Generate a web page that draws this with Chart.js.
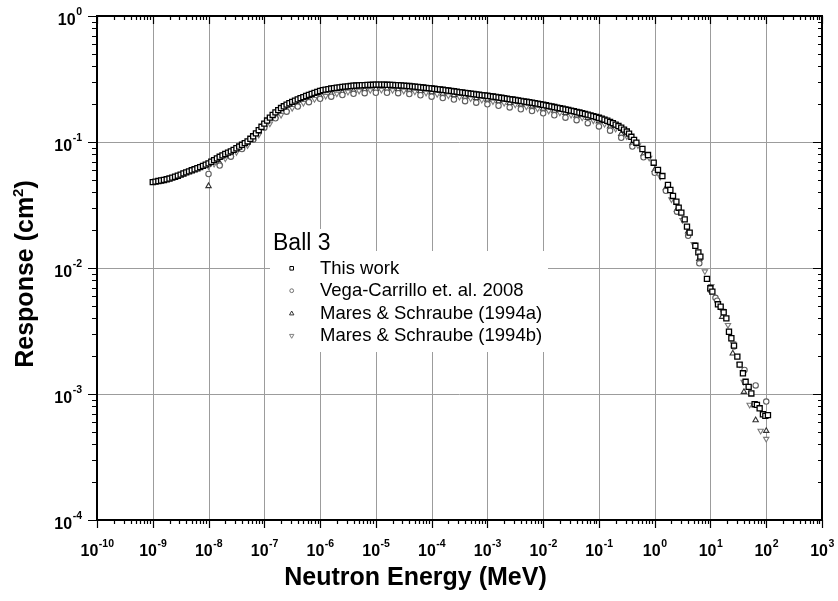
<!DOCTYPE html>
<html>
<head>
<meta charset="utf-8">
<title>Ball 3 response</title>
<script src="https://cdn.jsdelivr.net/npm/chart.js@4.4.1/dist/chart.umd.min.js"></script>
<style>
  html, body { margin: 0; padding: 0; background: #fff; }
  canvas { display: block; }
</style>
</head>
<body>
<canvas id="responseChart" width="838" height="601"></canvas>
<script>
// decade exponents used for grid, ticks and labels
const xTickExps = [-10, -9, -8, -7, -6, -5, -4, -3, -2, -1, 0, 1, 2, 3];
const yTickExps = [-4, -3, -2, -1, 0];

const seriesNames = [
    'This work',
    'Vega-Carrillo et. al. 2008',
    'Mares & Schraube (1994a)',
    'Mares & Schraube (1994b)'
];

// This work: log10(E/MeV) and response in cm^2
const workLogE = [
    -9.00, -8.95, -8.90, -8.85, -8.80, -8.75, -8.70, -8.65, -8.60, -8.55,
    -8.50, -8.45, -8.40, -8.35, -8.30, -8.25, -8.20, -8.15, -8.10, -8.05,
    -8.00, -7.95, -7.90, -7.85, -7.80, -7.75, -7.70, -7.65, -7.60, -7.55,
    -7.50, -7.45, -7.40, -7.35, -7.30, -7.25, -7.20, -7.15, -7.10, -7.05,
    -7.00, -6.95, -6.90, -6.85, -6.80, -6.75, -6.70, -6.65, -6.60, -6.55,
    -6.50, -6.45, -6.40, -6.35, -6.30, -6.25, -6.20, -6.15, -6.10, -6.05,
    -6.00, -5.95, -5.90, -5.85, -5.80, -5.75, -5.70, -5.65, -5.60, -5.55,
    -5.50, -5.45, -5.40, -5.35, -5.30, -5.25, -5.20, -5.15, -5.10, -5.05,
    -5.00, -4.95, -4.90, -4.85, -4.80, -4.75, -4.70, -4.65, -4.60, -4.55,
    -4.50, -4.45, -4.40, -4.35, -4.30, -4.25, -4.20, -4.15, -4.10, -4.05,
    -4.00, -3.95, -3.90, -3.85, -3.80, -3.75, -3.70, -3.65, -3.60, -3.55,
    -3.50, -3.45, -3.40, -3.35, -3.30, -3.25, -3.20, -3.15, -3.10, -3.05,
    -3.00, -2.95, -2.90, -2.85, -2.80, -2.75, -2.70, -2.65, -2.60, -2.55,
    -2.50, -2.45, -2.40, -2.35, -2.30, -2.25, -2.20, -2.15, -2.10, -2.05,
    -2.00, -1.95, -1.90, -1.85, -1.80, -1.75, -1.70, -1.65, -1.60, -1.55,
    -1.50, -1.45, -1.40, -1.35, -1.30, -1.25, -1.20, -1.15, -1.10, -1.05,
    -1.00, -0.95, -0.90, -0.85, -0.80, -0.75, -0.70, -0.65, -0.60, -0.55,
    -0.50, -0.46, -0.418, -0.37, -0.328, -0.22, -0.12, -0.018, 0.059, 0.138,
    0.238, 0.281, 0.328, 0.389, 0.43, 0.478, 0.538, 0.579, 0.627, 0.729,
    0.783, 0.819, 0.937, 0.998, 1.034, 1.135, 1.183, 1.237, 1.285, 1.332,
    1.375, 1.422, 1.482, 1.523, 1.582, 1.63, 1.685, 1.733, 1.792, 1.833,
    1.882, 1.941, 1.984, 2.031
];
const workResp = [
    0.0480, 0.0485, 0.0490, 0.0495, 0.0500, 0.0506, 0.0513, 0.0521, 0.0530, 0.0540,
    0.0551, 0.0563, 0.0574, 0.0585, 0.0596, 0.0607, 0.0619, 0.0632, 0.0646, 0.0661,
    0.0677, 0.0697, 0.0718, 0.0740, 0.0763, 0.0783, 0.0803, 0.0823, 0.0843, 0.0866,
    0.0892, 0.0920, 0.0950, 0.0980, 0.1010, 0.1060, 0.1110, 0.1170, 0.1240, 0.1320,
    0.1400, 0.1480, 0.1560, 0.1640, 0.1720, 0.1790, 0.1860, 0.1920, 0.1980, 0.2030,
    0.2080, 0.2130, 0.2180, 0.2228, 0.2272, 0.2318, 0.2365, 0.2410, 0.2455, 0.2500,
    0.2540, 0.2580, 0.2605, 0.2630, 0.2655, 0.2675, 0.2695, 0.2715, 0.2735, 0.2750,
    0.2765, 0.2780, 0.2795, 0.2805, 0.2815, 0.2822, 0.2830, 0.2835, 0.2840, 0.2845,
    0.2848, 0.2850, 0.2850, 0.2848, 0.2845, 0.2840, 0.2835, 0.2828, 0.2820, 0.2810,
    0.2800, 0.2790, 0.2780, 0.2765, 0.2750, 0.2735, 0.2720, 0.2705, 0.2690, 0.2675,
    0.2660, 0.2645, 0.2630, 0.2612, 0.2595, 0.2578, 0.2560, 0.2543, 0.2525, 0.2508,
    0.2490, 0.2473, 0.2456, 0.2439, 0.2422, 0.2405, 0.2388, 0.2372, 0.2356, 0.2342,
    0.2328, 0.2312, 0.2295, 0.2277, 0.2260, 0.2242, 0.2225, 0.2207, 0.2190, 0.2172,
    0.2155, 0.2137, 0.2120, 0.2102, 0.2085, 0.2067, 0.2050, 0.2032, 0.2015, 0.1995,
    0.1975, 0.1955, 0.1935, 0.1915, 0.1895, 0.1875, 0.1855, 0.1835, 0.1815, 0.1795,
    0.1775, 0.1755, 0.1735, 0.1713, 0.1692, 0.1670, 0.1648, 0.1626, 0.1603, 0.1580,
    0.1556, 0.1530, 0.1503, 0.1474, 0.1443, 0.1410, 0.1375, 0.1338, 0.1298, 0.1255,
    0.1210, 0.1165, 0.110, 0.104, 0.0987, 0.088, 0.0788, 0.0685, 0.060, 0.0537,
    0.0456, 0.0416, 0.0373, 0.0336, 0.0301, 0.0275, 0.0243, 0.0213, 0.0191, 0.0150,
    0.0133, 0.0123, 0.0082, 0.0069, 0.0065, 0.00515, 0.00493, 0.00445, 0.00398, 0.00312,
    0.00277, 0.00242, 0.00198, 0.00171, 0.00146, 0.00125, 0.00114, 0.00101, 0.00083, 0.00082,
    0.00077, 0.00069, 0.00067, 0.00068
];

// Vega-Carrillo et al. 2008
const vegaLogE = [
    -8.0, -7.8, -7.6, -7.4, -7.2, -7.0, -6.8, -6.6, -6.4, -6.2,
    -6.0, -5.8, -5.6, -5.4, -5.2, -5.0, -4.8, -4.6, -4.4, -4.2,
    -4.0, -3.8, -3.6, -3.4, -3.2, -3.0, -2.8, -2.6, -2.4, -2.2,
    -2.0, -1.8, -1.6, -1.4, -1.2, -1.0, -0.8, -0.6, -0.4, -0.2,
    0.0, 0.2, 0.4, 0.6, 0.8, 1.0, 1.09, 1.12, 1.42, 1.61,
    1.81, 2.0
];
const vegaResp = [
    0.0557, 0.065, 0.0765, 0.088, 0.104, 0.130, 0.154, 0.174, 0.191, 0.207,
    0.220, 0.229, 0.236, 0.241, 0.244, 0.246, 0.246, 0.244, 0.240, 0.235,
    0.229, 0.223, 0.217, 0.211, 0.205, 0.199, 0.194, 0.188, 0.182, 0.176,
    0.169, 0.163, 0.156, 0.149, 0.141, 0.133, 0.123, 0.108, 0.092, 0.0756,
    0.057, 0.041, 0.028, 0.018, 0.0109, 0.0067, 0.0058, 0.0055, 0.00238, 0.00155,
    0.00117, 0.00087
];

// Mares & Schraube 1994, set a
const maresALogE = [
    -8.0, -7.8, -7.6, -7.4, -7.2, -7.0, -6.8, -6.6, -6.4, -6.2,
    -6.0, -5.8, -5.6, -5.4, -5.2, -5.0, -4.8, -4.6, -4.4, -4.2,
    -4.0, -3.8, -3.6, -3.4, -3.2, -3.0, -2.8, -2.6, -2.4, -2.2,
    -2.0, -1.8, -1.6, -1.4, -1.2, -1.0, -0.8, -0.6, -0.4, -0.2,
    0.0, 0.2, 0.4, 0.6, 0.8, 1.0, 1.21, 1.40, 1.60, 1.81,
    2.0
];
const maresAResp = [
    0.0447, 0.068, 0.079, 0.091, 0.107, 0.136, 0.160, 0.181, 0.199, 0.216,
    0.230, 0.241, 0.249, 0.256, 0.261, 0.264, 0.265, 0.263, 0.260, 0.254,
    0.248, 0.242, 0.236, 0.229, 0.223, 0.217, 0.211, 0.204, 0.198, 0.191,
    0.184, 0.177, 0.170, 0.162, 0.155, 0.146, 0.133, 0.116, 0.098, 0.080,
    0.060, 0.043, 0.029, 0.0195, 0.0118, 0.0070, 0.0041, 0.0021, 0.00104, 0.00062,
    0.00051
];

// Mares & Schraube 1994, set b
const maresBLogE = [
    -8.0, -7.9, -7.7, -7.5, -7.3, -7.1, -6.9, -6.7, -6.5, -6.3,
    -6.1, -5.9, -5.7, -5.5, -5.3, -5.1, -4.9, -4.7, -4.5, -4.3,
    -4.1, -3.9, -3.7, -3.5, -3.3, -3.1, -2.9, -2.7, -2.5, -2.3,
    -2.1, -1.9, -1.7, -1.5, -1.3, -1.1, -0.9, -0.7, -0.5, -0.3,
    -0.1, 0.1, 0.3, 0.5, 0.7, 0.9, 1.015, 1.213, 1.314, 1.403,
    1.523, 1.595, 1.703, 1.9, 2.0
];
const maresBResp = [
    0.064, 0.067, 0.074, 0.083, 0.094, 0.114, 0.140, 0.164, 0.186, 0.204,
    0.219, 0.232, 0.242, 0.250, 0.255, 0.258, 0.259, 0.258, 0.255, 0.251,
    0.246, 0.240, 0.234, 0.228, 0.222, 0.216, 0.210, 0.204, 0.198, 0.191,
    0.184, 0.177, 0.171, 0.164, 0.156, 0.148, 0.139, 0.127, 0.111, 0.094,
    0.075, 0.053, 0.035, 0.024, 0.0155, 0.0094, 0.0072, 0.00456, 0.00353, 0.00252,
    0.00172, 0.00125, 0.00082, 0.00051, 0.00044
];

const FONT = '"Liberation Sans", Arial, Helvetica, sans-serif';

function toPoints(logE, resp) {
    const n = Math.min(logE.length, resp.length);
    const pts = [];
    for (let i = 0; i < n; i++) {
        pts.push({ x: Math.pow(10, logE[i]), y: resp[i] });
    }
    return pts;
}

// small legend symbols
function legendMarker(ctx, kind, x, y) {
    ctx.save();
    ctx.lineWidth = 1;
    ctx.fillStyle = '#fff';
    ctx.beginPath();
    if (kind === 0) {
        ctx.strokeStyle = '#000';
        ctx.rect(x - 1.8, y - 1.8, 3.6, 3.6);
    } else if (kind === 1) {
        ctx.strokeStyle = '#707070';
        ctx.arc(x, y, 1.9, 0, Math.PI * 2);
    } else if (kind === 2) {
        ctx.strokeStyle = '#333';
        ctx.moveTo(x, y - 2.3);
        ctx.lineTo(x + 2.2, y + 1.6);
        ctx.lineTo(x - 2.2, y + 1.6);
        ctx.closePath();
    } else {
        ctx.strokeStyle = '#808080';
        ctx.moveTo(x, y + 2.3);
        ctx.lineTo(x + 2.2, y - 1.6);
        ctx.lineTo(x - 2.2, y - 1.6);
        ctx.closePath();
    }
    ctx.fill();
    ctx.stroke();
    ctx.restore();
}

// "10" with a raised exponent
function powerLabel(ctx, exp, x, y, align) {
    const base = 'bold 16px ' + FONT;
    const sup = 'bold 10.5px ' + FONT;
    ctx.font = base;
    const wBase = ctx.measureText('10').width;
    ctx.font = sup;
    const wExp = ctx.measureText(String(exp)).width;
    let left;
    if (align === 'center') {
        left = x - (wBase + wExp) / 2;
    } else {
        left = x - wBase - wExp - 0.5;
    }
    ctx.textAlign = 'left';
    ctx.textBaseline = 'alphabetic';
    ctx.font = base;
    ctx.fillText('10', left, y);
    ctx.font = sup;
    ctx.fillText(String(exp), left + wBase + 0.5, y - 9.5);
}

const axesPlugin = {
    id: 'originAxes',
    beforeDatasetsDraw(chart) {
        const { ctx, chartArea: a, scales } = chart;
        ctx.save();
        ctx.strokeStyle = '#9c9c9c';
        ctx.lineWidth = 1;
        xTickExps.slice(1, -1).forEach(e => {
            const x = Math.round(scales.x.getPixelForValue(Math.pow(10, e))) + 0.5;
            ctx.beginPath();
            ctx.moveTo(x, a.top);
            ctx.lineTo(x, a.bottom);
            ctx.stroke();
        });
        yTickExps.slice(1, -1).forEach(e => {
            const y = Math.round(scales.y.getPixelForValue(Math.pow(10, e))) + 0.5;
            ctx.beginPath();
            ctx.moveTo(a.left, y);
            ctx.lineTo(a.right, y);
            ctx.stroke();
        });

        // legend panel hides the grid behind it
        ctx.fillStyle = '#fff';
        ctx.fillRect(270, 251, 278, 101);
        ctx.fillRect(271, 229, 64, 22);
        ctx.restore();
    },
    afterDatasetsDraw(chart) {
        const { ctx, chartArea: a, scales } = chart;
        ctx.save();

        // frame
        ctx.strokeStyle = '#000';
        ctx.lineWidth = 2;
        ctx.strokeRect(a.left, a.top, a.right - a.left, a.bottom - a.top);

        // ticks: out on bottom/left, in on top/right
        ctx.lineWidth = 1.2;
        for (let d = xTickExps[0]; d <= xTickExps[xTickExps.length - 1]; d++) {
            for (let m = 1; m <= 9; m++) {
                if (d === xTickExps[xTickExps.length - 1] && m > 1) break;
                const x = Math.round(scales.x.getPixelForValue(m * Math.pow(10, d))) + 0.5;
                const len = m === 1 ? 8 : 4;
                ctx.beginPath();
                ctx.moveTo(x, a.bottom);
                ctx.lineTo(x, a.bottom + len);
                ctx.moveTo(x, a.top);
                ctx.lineTo(x, a.top + len);
                ctx.stroke();
            }
        }
        for (let d = yTickExps[0]; d <= yTickExps[yTickExps.length - 1]; d++) {
            for (let m = 1; m <= 9; m++) {
                if (d === yTickExps[yTickExps.length - 1] && m > 1) break;
                const y = Math.round(scales.y.getPixelForValue(m * Math.pow(10, d))) + 0.5;
                const len = m === 1 ? 9 : 5;
                ctx.beginPath();
                ctx.moveTo(a.left - len, y);
                ctx.lineTo(a.left, y);
                ctx.moveTo(a.right - (m === 1 ? 9 : 4), y);
                ctx.lineTo(a.right, y);
                ctx.stroke();
            }
        }

        // tick labels
        ctx.fillStyle = '#000';
        xTickExps.forEach(e => {
            const x = scales.x.getPixelForValue(Math.pow(10, e));
            powerLabel(ctx, e, x, a.bottom + 36, 'center');
        });
        yTickExps.forEach(e => {
            const y = scales.y.getPixelForValue(Math.pow(10, e));
            powerLabel(ctx, e, a.left - 15, y + 8.5, 'right');
        });

        // axis titles
        ctx.font = 'bold 25px ' + FONT;
        ctx.textAlign = 'center';
        ctx.textBaseline = 'alphabetic';
        ctx.fillText('Neutron Energy (MeV)', 415.5, 585);

        ctx.save();
        ctx.translate(33, 274);
        ctx.rotate(-Math.PI / 2);
        const head = 'Response (cm';
        const tail = ')';
        ctx.font = 'bold 25px ' + FONT;
        const wHead = ctx.measureText(head).width;
        const wTail = ctx.measureText(tail).width;
        ctx.font = 'bold 15px ' + FONT;
        const wSup = ctx.measureText('2').width;
        let cx = -(wHead + wSup + wTail) / 2;
        ctx.textAlign = 'left';
        ctx.font = 'bold 25px ' + FONT;
        ctx.fillText(head, cx, 0);
        cx += wHead;
        ctx.font = 'bold 15px ' + FONT;
        ctx.fillText('2', cx, -10);
        cx += wSup;
        ctx.font = 'bold 25px ' + FONT;
        ctx.fillText(tail, cx, 0);
        ctx.restore();

        // legend
        ctx.font = '23px ' + FONT;
        ctx.textAlign = 'left';
        ctx.fillText('Ball 3', 273, 250);
        const rows = [268.3, 290.7, 313.3, 336];
        ctx.font = '18.5px ' + FONT;
        seriesNames.forEach((name, i) => {
            legendMarker(ctx, i, 291.7, rows[i]);
            ctx.fillStyle = '#000';
            ctx.fillText(name, 320, rows[i] + 5.3);
        });

        ctx.restore();
    }
};

const chart = new Chart(document.getElementById('responseChart'), {
    type: 'scatter',
    data: {
        datasets: [
            {
                label: seriesNames[0],
                data: toPoints(workLogE, workResp),
                pointStyle: 'rect',
                pointRadius: 3.6,
                borderWidth: 1.3,
                borderColor: '#000',
                backgroundColor: '#fff'
            },
            {
                label: seriesNames[1],
                data: toPoints(vegaLogE, vegaResp),
                pointStyle: 'circle',
                pointRadius: 2.7,
                borderWidth: 1.1,
                borderColor: '#5e5e5e',
                backgroundColor: '#fff'
            },
            {
                label: seriesNames[2],
                data: toPoints(maresALogE, maresAResp),
                pointStyle: 'triangle',
                pointRadius: 3.1,
                borderWidth: 1.1,
                borderColor: '#333',
                backgroundColor: '#fff'
            },
            {
                label: seriesNames[3],
                data: toPoints(maresBLogE, maresBResp),
                pointStyle: 'triangle',
                pointRotation: 180,
                pointRadius: 3.1,
                borderWidth: 1.1,
                borderColor: '#7a7a7a',
                backgroundColor: '#fff'
            }
        ]
    },
    options: {
        responsive: false,
        animation: false,
        events: [],
        layout: { padding: { left: 97, right: 16, top: 16, bottom: 81 } },
        plugins: {
            legend: { display: false },
            tooltip: { enabled: false }
        },
        scales: {
            x: { type: 'logarithmic', min: 1e-10, max: 1e3, display: false },
            y: { type: 'logarithmic', min: 1e-4, max: 1, display: false }
        }
    },
    plugins: [axesPlugin]
});
</script>
</body>
</html>
